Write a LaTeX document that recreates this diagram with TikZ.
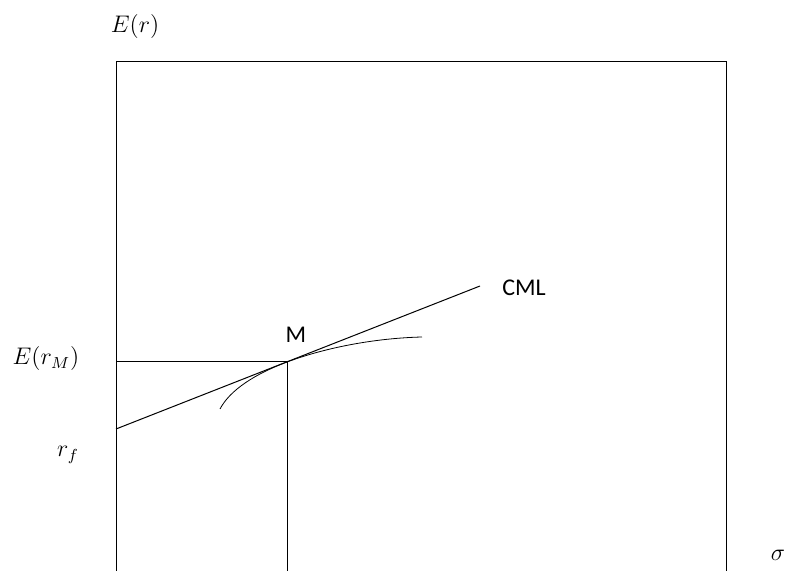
\documentclass[tikz,border=0pt]{standalone}
\usepackage{fontspec}
\newfontfamily\labelfont{Carlito}
\definecolor{axisText}{HTML}{000000}

\begin{document}
\begin{tikzpicture}[x=0.5pt, y=-0.5pt, line width=0.5pt,
  mathlbl/.style={inner sep=0pt, font=\large},
  txtlbl/.style={inner sep=0pt, font=\labelfont\large}]
  \useasboundingbox (0,0) rectangle (787,571);
  % frame
  \coordinate (bl) at (116,571);
  \coordinate (tl) at (116,62);
  \coordinate (tr) at (726,62);
  \coordinate (br) at (726,571);
  \draw (bl) -- (tl) -- (tr) -- (br);
  % market portfolio
  \coordinate (M) at (287,362);
  \coordinate (yM) at (116,362);
  \coordinate (xM) at (287,571);
  \draw (yM) -- (M) -- (xM);
  % capital market line
  \coordinate (rf) at (116,429);
  \coordinate (cmlEnd) at (480,286);
  \draw (rf) -- (cmlEnd);
  % efficient frontier
  \coordinate (fa) at (220,409);
  \coordinate (fb) at (422,337);
  \draw[line width=0.4pt] (fa) .. controls (230,390) and (255,374) .. (M)
    .. controls (330,346) and (380,338) .. (fb);
  % labels
  \node[mathlbl] (Er) at (135,27) {$E(r)$};
  \node[mathlbl] (ErM) at (46,359) {$E(r_M)$};
  \node[mathlbl] (rfl) at (68,455) {$r_f$};
  \node[mathlbl] (sig) at (778,555) {$\sigma$};
  \node[txtlbl] (Ml) at (296,335) {M};
  \node[txtlbl] (cml) at (524,288) {CML};
\end{tikzpicture}
\end{document}
